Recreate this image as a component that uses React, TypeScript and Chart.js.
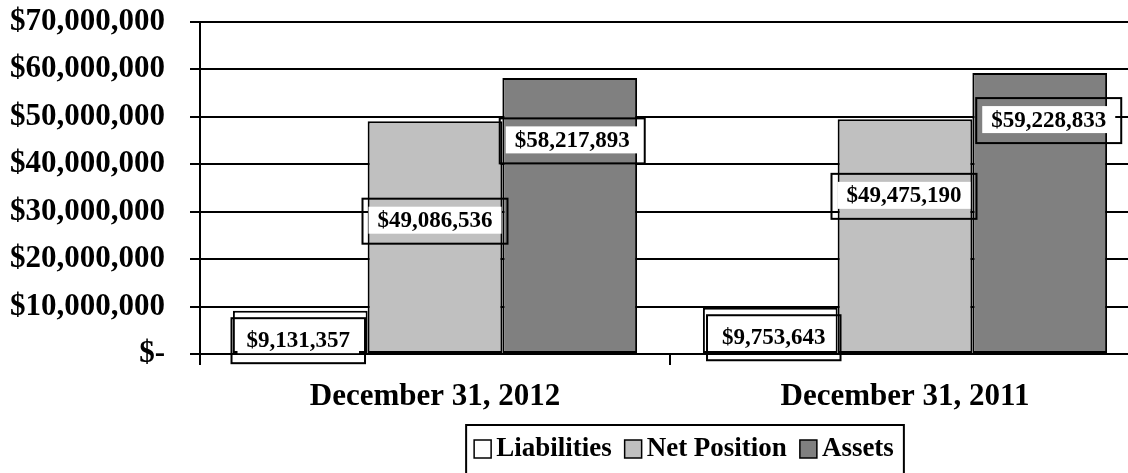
import React, { useEffect, useRef } from "react";
import { Chart, registerables } from "chart.js";

Chart.register(...registerables);

// ---- data ----
const CATEGORIES = ["December 31, 2012", "December 31, 2011"];
const SERIES_NAMES = ["Liabilities", "Net Position", "Assets"];
const LIABILITIES = [9131357, 9753643];
const NET_POSITION = [49086536, 49475190];
const ASSETS = [58217893, 59228833];
const Y_MIN = 0;
const Y_MAX = 70000000;
const Y_STEP = 10000000;

// ---- styling / layout (not data) ----
const COLORS = ["#FFFFFF", "#C0C0C0", "#808080"];
const FONT = '"Liberation Serif", "Times New Roman", serif';
// label box offsets from bar top-centre, in pixels [series][category]
const LABEL_OFFSETS: [number, number][][] = [
  [[-2, 29], [3.5, 29]],
  [[0, 99], [-1, 76]],
  [[2.5, 62], [9, 46.5]],
];

const money = (v: number) => (v === 0 ? "$-" : "$" + v.toLocaleString("en-US"));

const dataLabelPlugin = {
  id: "boxedLabels",
  afterDatasetsDraw(chart: any) {
    const ctx = chart.ctx;
    ctx.save();
    ctx.font = `bold 23px ${FONT}`;
    ctx.textAlign = "center";
    ctx.textBaseline = "middle";
    chart.data.datasets.forEach((ds: any, i: number) => {
      const meta = chart.getDatasetMeta(i);
      meta.data.forEach((el: any, j: number) => {
        const text = money(ds.data[j]);
        const [dx, dy] = LABEL_OFFSETS[i][j];
        const cx = el.x + dx;
        const cy = el.y + dy;
        const tw = ctx.measureText(text).width;
        const bgW = tw + 18;
        const bgH = 27;
        const boxW = bgW + 12;
        const boxH = 45;
        ctx.fillStyle = "#FFFFFF";
        ctx.fillRect(cx - bgW / 2, cy - bgH / 2, bgW, bgH);
        ctx.strokeStyle = "#000";
        ctx.lineWidth = 2;
        ctx.strokeRect(cx - boxW / 2, cy - bgH / 2 - 8, boxW, boxH);
        ctx.fillStyle = "#000";
        ctx.fillText(text, cx, cy + 1);
      });
    });
    ctx.restore();
  },
};

const legendPlugin = {
  id: "boxLegend",
  afterDraw(chart: any) {
    const ctx = chart.ctx;
    ctx.save();
    ctx.font = `bold 27px ${FONT}`;
    ctx.textBaseline = "middle";
    ctx.textAlign = "left";
    const items = chart.data.datasets.map((d: any) => ({
      label: d.label,
      color: d.backgroundColor,
      w: ctx.measureText(d.label).width,
    }));
    const sw = 17, gapT = 5, gapI = 13, padL = 8, padR = 10;
    let total = padL + padR + gapI * (items.length - 1);
    items.forEach((it: any) => (total += sw + gapT + it.w));
    const centre = 685;
    const left = centre - total / 2;
    const top = 425;
    ctx.strokeStyle = "#000";
    ctx.lineWidth = 2;
    ctx.strokeRect(left, top, total, 80);
    let x = left + padL;
    const cy = 449;
    items.forEach((it: any) => {
      ctx.fillStyle = it.color;
      ctx.fillRect(x, cy - 9, sw, 18);
      ctx.lineWidth = 1.5;
      ctx.strokeRect(x, cy - 9, sw, 18);
      x += sw + gapT;
      ctx.fillStyle = "#000";
      ctx.fillText(it.label, x, cy);
      x += it.w + gapI;
    });
    ctx.restore();
  },
};

export default function App() {
  const ref = useRef<HTMLCanvasElement | null>(null);
  useEffect(() => {
    if (!ref.current) return;
    const seriesValues = [LIABILITIES, NET_POSITION, ASSETS];
    const chart = new Chart(ref.current, {
      type: "bar",
      data: {
        labels: CATEGORIES,
        datasets: SERIES_NAMES.map((name, i) => ({
          label: name,
          data: seriesValues[i],
          backgroundColor: COLORS[i],
          borderColor: "#000",
          borderWidth: 2,
          borderSkipped: false,
          barPercentage: 1,
          categoryPercentage: 0.86,
        })),
      },
      options: {
        animation: false,
        responsive: false,
        devicePixelRatio: 1,
        layout: { padding: { top: 22, right: 20, left: 0, bottom: 0 } },
        plugins: {
          legend: { display: false },
          tooltip: { enabled: false },
        },
        scales: {
          x: {
            offset: true,
            grid: {
              display: true,
              drawOnChartArea: false,
              drawTicks: true,
              tickLength: 11,
              color: "#000",
              lineWidth: 2,
            },
            border: { display: true, color: "#000", width: 2 },
            ticks: {
              color: "#000",
              font: { family: FONT, size: 31, weight: "bold" },
              padding: 13,
              maxRotation: 0,
              autoSkip: false,
            },
            afterFit: (s: any) => {
              s.height = 119;
              s.paddingLeft = 0;
              s.paddingRight = 0;
            },
          },
          y: {
            min: Y_MIN,
            max: Y_MAX,
            ticks: {
              stepSize: Y_STEP,
              color: "#000",
              font: { family: FONT, size: 31, weight: "bold" },
              padding: 25,
              callback: (v: any) => money(Number(v)),
            },
            grid: { color: "#000", lineWidth: 2, tickLength: 10, drawTicks: true },
            border: { display: true, color: "#000", width: 2 },
            afterFit: (s: any) => {
              s.width = 200;
              s.paddingTop = 0;
              s.paddingBottom = 0;
            },
          },
        },
      },
      plugins: [dataLabelPlugin, legendPlugin],
    });
    return () => chart.destroy();
  }, []);
  return (
    <div
      style={{
        position: "fixed",
        left: 0,
        top: 0,
        width: 1128,
        height: 473,
        overflow: "hidden",
        background: "#fff",
      }}
    >
      <canvas ref={ref} width={1160} height={473} style={{ width: 1160, height: 473, display: "block" }} />
    </div>
  );
}
